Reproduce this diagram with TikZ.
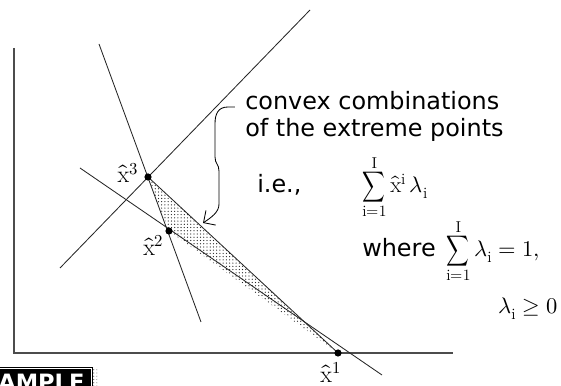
\documentclass[tikz,border=0pt]{standalone}
\usepackage{fontspec}
\usepackage{unicode-math}
\setmathfont{Latin Modern Math}
\usepackage{graphicx}
\newfontfamily\notefont{DejaVu Sans}
\usetikzlibrary{arrows.meta,positioning,patterns.meta}
\tikzset{
  guide/.style={line width=0.6pt, draw=black!85},
  axisline/.style={line width=0.9pt, draw=black!70},
  extpt/.style={circle, fill=black, inner sep=0pt, minimum size=1.8mm},
  ptlabel/.style={font=\fontsize{17}{20}\selectfont, inner sep=0pt},
  notetext/.style={font=\notefont\fontsize{17}{20}\selectfont, inner sep=0pt, anchor=base west},
  mathtext/.style={font=\fontsize{16}{19}\selectfont, inner sep=0pt, anchor=base west},
  curly/.style={-{Straight Barb[length=2.2mm]}, line width=0.6pt},
  dotfill/.style={pattern={Dots[distance=2.3pt, radius=0.45pt]}, pattern color=black!85},
  stampbox/.style={fill=black, draw=black, double=white, double distance=0.5pt, line width=0.8pt,
    text=white, font=\notefont\bfseries\fontsize{16}{18}\selectfont, inner xsep=5pt, inner ysep=4pt}
}
\newcommand{\slimsum}{\mathop{\scalebox{0.7}[0.95]{$\displaystyle\sum$}}\limits}

\begin{document}
\begin{tikzpicture}[x=0.025cm, y=-0.025cm]
  \useasboundingbox (0,0) rectangle (561,386);
  % axes
  \draw[axisline] (14,48) -- (14,353) -- (453,353);
  % extreme points
  \coordinate (x1) at (338,353);
  \coordinate (x2) at (169,231);
  \coordinate (x3) at (148,177);
  \fill[dotfill] (x1) -- (x2) -- (x3) -- cycle;
  \draw[guide] (x3) -- (x1);
  % the three lines
  \draw[guide] (80,168) -- (382,375);
  \draw[guide] (99,44) -- (201,322);
  \draw[guide] (60,268) -- (310,10);
  \foreach \p in {1,2,3}
    \node[extpt] (p\p) at (x\p) {};
  \node[ptlabel, below=1.3mm of p1, xshift=-1.8mm] (lab1) {$\hat{\mathrm{x}}^{1}$};
  \node[ptlabel, below left=0.3mm and 0.5mm of p2] (lab2) {$\hat{\mathrm{x}}^{2}$};
  \node[ptlabel, left=1.4mm of p3, yshift=1mm] (lab3) {$\hat{\mathrm{x}}^{3}$};

  % annotation
  \node[notetext] (note1) at (245,110) {convex combinations};
  \node[notetext] (note2) at ([yshift=-18.5pt]note1.base west) {of the extreme points};
  \node[notetext] (ie) at (257,193) {i.e.,};
  \node[mathtext] (combo) at (362,193)
    {$\slimsum_{\mathrm{i=1}}^{\mathrm{I}} \hat{\mathrm{x}}^{\mathrm{i}}\,\lambda_{\mathrm{i}}$};
  \node[notetext] (where) at (362,257) {where};
  \node[mathtext] (norm) at (446,257)
    {$\slimsum_{\mathrm{i=1}}^{\mathrm{I}} \lambda_{\mathrm{i}} = 1,$};
  \node[mathtext, anchor=base east] (nonneg) at (558,314) {$\lambda_{\mathrm{i}} \geq 0$};

  \coordinate (tip) at (203,223);
  \draw[curly] ([xshift=-2.5mm,yshift=0.75mm]note1.base west) -- (228,107)
    .. controls (218,107) and (215,114) .. (215,124) -- (215,157)
    .. controls (215,164) and (219,164) .. (219,171) -- (219,204)
    .. controls (219,212) and (212,217) .. (tip);

  % stamp in the corner
  \begin{scope}
    \clip (0,0) rectangle (561,386);
    \node[stampbox, anchor=north east] (stamp) at (92,368) {SAMPLE};
    \fill[dotfill, pattern color=black!60] (stamp.north east) rectangle ++(5,30);
  \end{scope}
\end{tikzpicture}
\end{document}
